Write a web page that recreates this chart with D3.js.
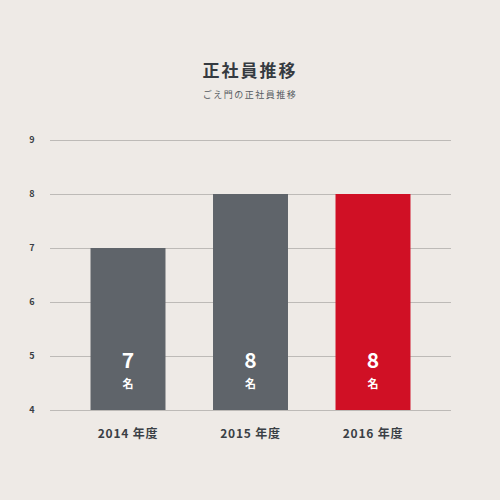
<!DOCTYPE html>
<html>
<head>
<meta charset="utf-8">
<script src="https://cdn.jsdelivr.net/npm/d3@7"></script>
<style>
  body { margin: 0; background: #eeeae6; }
  svg { display: block; font-family: "Noto Sans CJK JP", "Noto Sans", sans-serif; }
</style>
</head>
<body>
<svg width="500" height="500"></svg>
<script>
// data
const years = ["2014 年度", "2015 年度", "2016 年度"];
const staff = [7, 8, 8];
const barColors = ["#5f646a", "#5f646a", "#d01025"];
const yTicks = [4, 5, 6, 7, 8, 9];

const svg = d3.select("svg");
svg.append("rect").attr("width", 500).attr("height", 500).attr("fill", "#eeeae6");

// title
svg.append("text")
  .attr("x", 250).attr("y", 77)
  .attr("text-anchor", "middle")
  .attr("font-size", 17).attr("font-weight", 700)
  .attr("letter-spacing", 2)
  .attr("fill", "#353a40")
  .text("正社員推移");
svg.append("text")
  .attr("x", 250).attr("y", 98)
  .attr("text-anchor", "middle")
  .attr("font-size", 9)
  .attr("letter-spacing", 1.5)
  .attr("fill", "#555a60")
  .text("ごえ門の正社員推移");

// scales
const x = d3.scaleBand()
  .domain(years)
  .range([66.75, 434.25])
  .paddingInner(0.388)
  .paddingOuter(0.194);
const y = d3.scaleLinear().domain([4, 9]).range([410, 140]);

// grid + y labels
const grid = svg.append("g");
grid.selectAll("line").data(yTicks).join("line")
  .attr("x1", 50).attr("x2", 451)
  .attr("y1", d => y(d) + 0.5).attr("y2", d => y(d) + 0.5)
  .attr("stroke", "#bdbab7").attr("stroke-width", 1);
grid.selectAll("text").data(yTicks).join("text")
  .attr("x", 32).attr("y", d => y(d) + 3)
  .attr("text-anchor", "middle")
  .attr("font-size", 9).attr("font-weight", 700)
  .attr("fill", "#3a3f45")
  .text(d => d);

// bars
const bars = svg.append("g");
bars.selectAll("rect").data(staff).join("rect")
  .attr("x", (d, i) => x(years[i]))
  .attr("width", x.bandwidth())
  .attr("y", d => y(d))
  .attr("height", d => y(4) - y(d))
  .attr("fill", (d, i) => barColors[i]);

// value labels inside bars
bars.selectAll("text.val").data(staff).join("text")
  .attr("class", "val")
  .attr("x", (d, i) => x(years[i]) + x.bandwidth() / 2)
  .attr("y", 368)
  .attr("text-anchor", "middle")
  .attr("font-size", 21).attr("font-weight", 700)
  .attr("fill", "#fff")
  .text(d => d);
bars.selectAll("text.unit").data(staff).join("text")
  .attr("class", "unit")
  .attr("x", (d, i) => x(years[i]) + x.bandwidth() / 2)
  .attr("y", 388)
  .attr("text-anchor", "middle")
  .attr("font-size", 11).attr("font-weight", 700)
  .attr("fill", "#fff")
  .text("名");

// x labels
svg.append("g").selectAll("text").data(years).join("text")
  .attr("x", d => x(d) + x.bandwidth() / 2)
  .attr("y", 438)
  .attr("text-anchor", "middle")
  .attr("font-size", 12).attr("font-weight", 700)
  .attr("letter-spacing", 0.8)
  .attr("fill", "#3a3f45")
  .text(d => d);
</script>
</body>
</html>
